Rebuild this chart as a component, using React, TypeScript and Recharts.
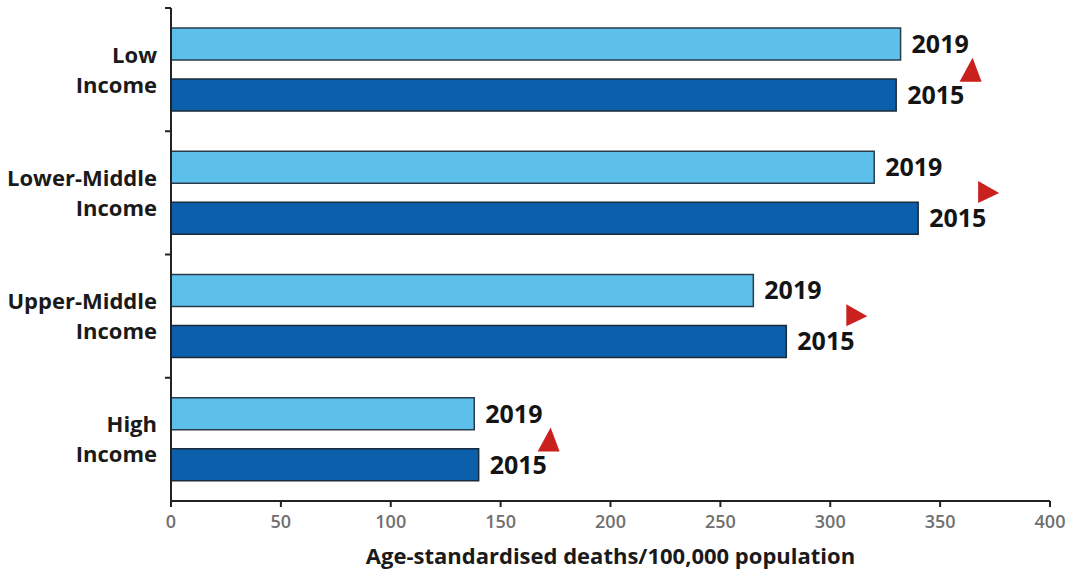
import { Bar, BarChart, LabelList, ReferenceDot, XAxis, YAxis } from 'recharts';

const groups = ['Low Income', 'Lower-Middle Income', 'Upper-Middle Income', 'High Income'];
const deaths2019 = [332, 320, 265, 138];
const deaths2015 = [330, 340, 280, 140];
// arrow direction drawn next to each income group
const trend = ['up', 'right', 'right', 'up'];
const xTicks = [0, 50, 100, 150, 200, 250, 300, 350, 400];

const data = groups.map((g, i) => ({
  group: g,
  y2019: deaths2019[i],
  y2015: deaths2015[i],
}));

const FONT = '"Open Sans", "Liberation Sans", Arial, sans-serif';

function GroupTick(props: any) {
  const { x, y, payload } = props;
  const text: string = payload.value;
  const cut = text.lastIndexOf(' ');
  const lines = [text.slice(0, cut), text.slice(cut + 1)];
  const half = payload.offset ?? 61;
  return (
    <g>
      <line x1={x + 8} x2={x + 14} y1={y - half} y2={y - half} stroke="#222" strokeWidth={2} />
      <text x={x} y={y} textAnchor="end" fontFamily={FONT} fontWeight={700} fontSize={22} fill="#1a1a1a">
        <tspan x={x} dy={-15 + 8}>{lines[0]}</tspan>
        <tspan x={x} dy={30}>{lines[1]}</tspan>
      </text>
    </g>
  );
}

function Arrow(props: any) {
  const { cx, cy, dir } = props;
  const x = cx + 70;
  const pts =
    dir === 'up'
      ? `${x - 11},${cy + 12} ${x + 11},${cy + 12} ${x + 2},${cy - 12}`
      : `${x - 10},${cy - 12} ${x + 11},${cy} ${x - 10},${cy + 10}`;
  return <polygon points={pts} fill="#c8211e" />;
}

export default function App() {
  return (
    <div style={{ position: 'absolute', left: 0, top: 0, background: '#fff' }}>
      <BarChart
        width={1073}
        height={573}
        data={data}
        layout="vertical"
        margin={{ top: 8, right: 23, bottom: 0, left: 0 }}
        barSize={32}
        barGap={19}
      >
        <XAxis
          type="number"
          domain={[0, 400]}
          ticks={xTicks}
          interval={0}
          height={72}
          axisLine={{ stroke: '#222', strokeWidth: 2 }}
          tickLine={{ stroke: '#222', strokeWidth: 2 }}
          tickSize={6}
          tickMargin={8}
          tick={{ fontFamily: FONT, fontSize: 18, fontWeight: 600, fill: '#707070' }}
          label={{
            value: 'Age-standardised deaths/100,000 population',
            position: 'insideBottom',
            offset: 9,
            style: { fontFamily: FONT, fontSize: 22, fontWeight: 700, fill: '#1a1a1a' },
          }}
        />
        <YAxis
          type="category"
          dataKey="group"
          width={171}
          axisLine={{ stroke: '#222', strokeWidth: 2 }}
          tickLine={false}
          tickSize={6}
          tickMargin={8}
          interval={0}
          tick={<GroupTick />}
        />
        <Bar dataKey="y2019" fill="#5cc0ea" stroke="#2a3b4c" strokeWidth={1.5} isAnimationActive={false}>
          <LabelList
            dataKey="y2019"
            position="right"
            offset={11}
            formatter={() => '2019'}
            style={{ fontFamily: FONT, fontSize: 25, fontWeight: 700, fill: '#141414' }}
          />
        </Bar>
        <Bar dataKey="y2015" fill="#0b5fab" stroke="#1b2a3a" strokeWidth={1.5} isAnimationActive={false}>
          <LabelList
            dataKey="y2015"
            position="right"
            offset={11}
            formatter={() => '2015'}
            style={{ fontFamily: FONT, fontSize: 25, fontWeight: 700, fill: '#141414' }}
          />
        </Bar>
        {data.map((d, i) => (
          <ReferenceDot
            key={d.group}
            x={Math.max(d.y2019, d.y2015)}
            y={d.group}
            shape={(p: any) => <Arrow {...p} dir={trend[i]} />}
          />
        ))}
      </BarChart>
    </div>
  );
}
